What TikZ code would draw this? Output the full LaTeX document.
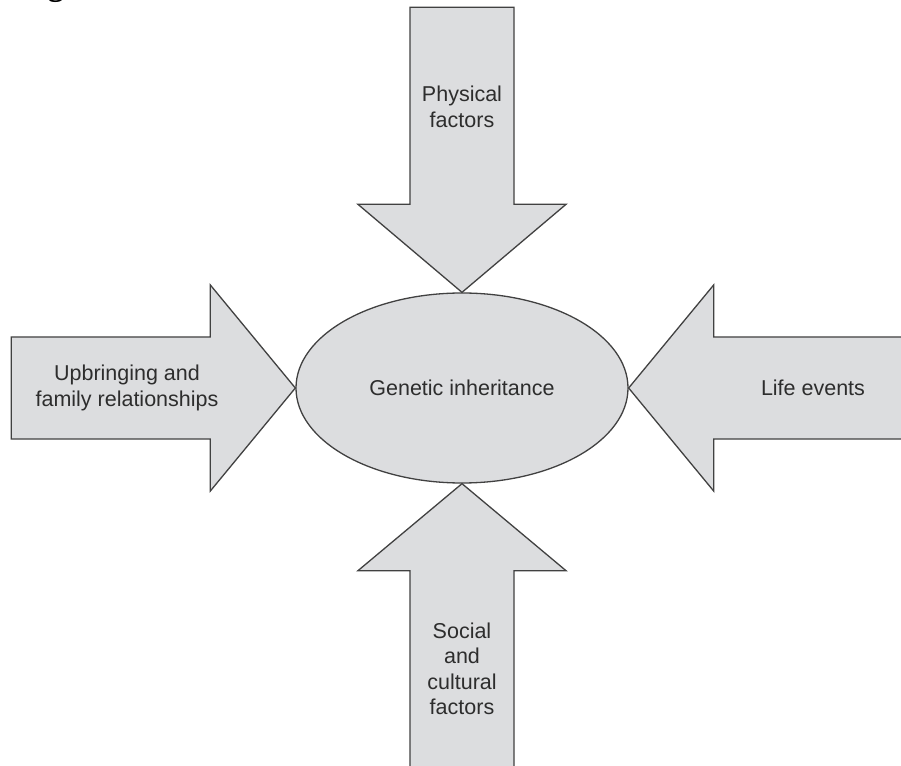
\documentclass[tikz,border=0pt]{standalone}
\usepackage{fontspec}
\setmainfont{Liberation Sans}
\newfontfamily\headfont{Liberation Serif}
\usetikzlibrary{shapes.geometric}

\definecolor{boxgray}{RGB}{220,221,223}
\definecolor{edgegray}{RGB}{65,65,65}
\definecolor{labelgray}{RGB}{45,45,45}

\begin{document}
\begin{tikzpicture}[x=1pt, y=1pt,
    blockarrow/.style={fill=boxgray, draw=edgegray, line width=1.3pt, line join=miter},
    factor/.style={align=center, text=labelgray, font=\fontsize{21.5}{25.5}\selectfont}]
    \clip (-462,-377) rectangle (439,388);

    % cut-off caption at the top
    \node[anchor=base, font=\headfont\bfseries\fontsize{32}{32}\selectfont] (figlabel) at (-406,392) {g};

    \node[ellipse, fill=boxgray, draw=edgegray, line width=1.3pt, inner sep=0pt,
          minimum width=332, minimum height=190, factor] (genetic) at (0,0) {Genetic inheritance};

    % the four block arrows, tips on the ellipse
    \draw[blockarrow] (genetic.north) -- ++(-104,88) -- ++(52,0) -- ++(0,197)
        -- ++(104,0) -- ++(0,-197) -- ++(52,0) -- cycle;
    \draw[blockarrow] (genetic.west) -- ++(-85,103) -- ++(0,-52) -- ++(-199,0)
        -- ++(0,-102) -- ++(199,0) -- ++(0,-52) -- cycle;
    \draw[blockarrow] (genetic.east) -- ++(85,103) -- ++(0,-52) -- ++(250,0)
        -- ++(0,-102) -- ++(-250,0) -- ++(0,-52) -- cycle;
    \draw[blockarrow] (genetic.south) -- ++(-104,-87) -- ++(52,0) -- ++(0,-250)
        -- ++(104,0) -- ++(0,250) -- ++(52,0) -- cycle;

    \node[factor] (physical) at (0,281) {Physical\\factors};
    \node[factor] (upbringing) at (-335,0) {Upbringing and\\family relationships};
    \node[factor] (lifeevents) at (351,0) {Life events};
    \node[factor] (social) at (0,-281) {Social\\and\\cultural\\factors};
\end{tikzpicture}
\end{document}
